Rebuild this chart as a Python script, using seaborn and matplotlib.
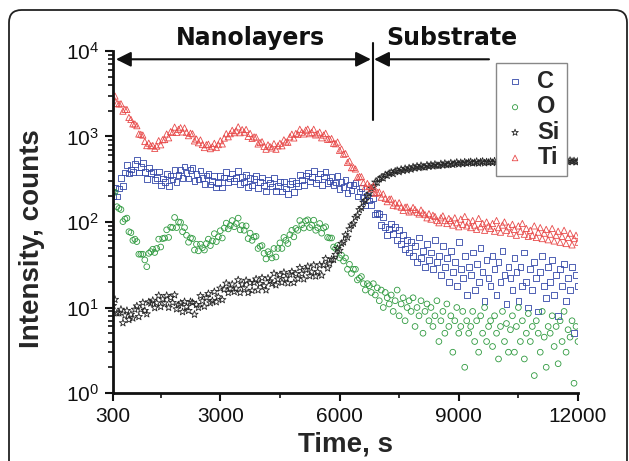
import numpy as np
import pandas as pd
import matplotlib
matplotlib.use('Agg')
import matplotlib.pyplot as plt
from matplotlib.patches import FancyBboxPatch
import seaborn as sns

sns.set_theme(style='ticks')
plt.rcParams['font.family'] = ['Liberation Sans', 'DejaVu Sans']
plt.rcParams['mathtext.default'] = 'regular'

# sputter time grid, s (one reading every 50 s)
time_start = 300
time_stop = 12000
time_step = 50

# counts, 10 readings (500 s) per row
C_counts = [
    200, 254, 198, 247, 325, 262, 378, 468, 369, 412,
    387, 477, 528, 378, 440, 490, 382, 320, 424, 377,
    391, 311, 328, 390, 268, 322, 291, 362, 266, 351,
    314, 409, 296, 357, 403, 329, 445, 373, 323, 403,
    428, 303, 366, 314, 399, 327, 280, 349, 365, 275,
    300, 348, 254, 285, 342, 254, 331, 384, 293, 323,
    369, 302, 328, 396, 276, 333, 296, 357, 257, 329,
    268, 318, 348, 248, 295, 331, 267, 228, 314, 286,
    261, 329, 231, 265, 291, 227, 298, 247, 214, 276,
    302, 224, 288, 264, 357, 307, 271, 349, 377, 297,
    335, 395, 288, 318, 370, 271, 341, 384, 284, 304,
    336, 270, 289, 348, 242, 291, 259, 311, 217, 275,
    233, 270, 284, 199, 228, 249, 189, 156, 204, 179,
    159, 189, 122, 128, 125, 93, 115, 87, 71, 83,
    95, 72, 88, 62, 80, 55, 70, 48, 62, 44,
    58, 40, 52, 34, 66, 38, 46, 30, 55, 36,
    44, 28, 62, 34, 40, 24, 52, 30, 38, 20,
    46, 26, 34, 18, 58, 28, 22, 40, 14, 30,
    24, 44, 16, 32, 20, 50, 26, 12, 36, 22,
    18, 40, 28, 14, 34, 20, 46, 24, 11, 30,
    22, 16, 38, 26, 12, 30, 18, 44, 20, 10,
    28, 16, 34, 22, 9, 26, 40, 18, 13, 30,
    20, 36, 14, 24, 8, 28, 18, 32, 12, 22,
    16, 30, 5, 24, 18,
]
O_counts = [
    225, 223, 151, 144, 140, 101, 108, 111, 77, 75,
    61, 63, 59, 42, 42, 42, 36, 30, 43, 45,
    48, 44, 49, 63, 51, 64, 65, 81, 66, 87,
    86, 113, 86, 100, 99, 77, 86, 70, 58, 65,
    64, 47, 55, 46, 55, 50, 47, 56, 63, 53,
    60, 73, 59, 67, 79, 65, 85, 97, 83, 91,
    104, 88, 96, 111, 81, 91, 80, 90, 64, 74,
    61, 67, 68, 49, 52, 53, 43, 37, 45, 42,
    38, 49, 39, 49, 57, 49, 66, 61, 56, 71,
    80, 67, 84, 80, 104, 93, 85, 103, 106, 86,
    92, 105, 80, 86, 96, 74, 85, 88, 66, 65,
    65, 51, 49, 53, 38, 41, 35, 38, 28, 32,
    25, 28, 28, 21, 22, 23, 19, 16, 19, 18,
    15, 19, 14, 17, 12, 16, 10, 15, 13, 11,
    14, 9, 12, 16, 8, 11, 13, 7, 10, 12,
    9, 13, 6, 10, 8, 12, 5, 9, 11, 7,
    10, 6, 8, 12, 4, 7, 9, 5, 11, 6,
    8, 3, 7, 10, 5, 6, 9, 2, 7, 5,
    6, 9, 4, 7, 3, 8, 5, 10, 4, 6,
    7, 3.5, 8, 5, 2.5, 6, 9, 4, 6.5, 3,
    5.5, 8, 3, 6, 10, 4, 7, 2.5, 5, 8.5,
    4, 6, 1.6, 7, 5, 3, 9, 4.5, 2, 6,
    5, 8, 3.5, 6, 2.2, 7, 4, 9, 3, 5.5,
    4.5, 7, 1.3, 6, 4,
]
Si_counts = [
    10.5, 12.4, 8.6, 8.6, 9.5, 6.6, 8.1, 9.2, 7.2, 8.3,
    7.5, 9.5, 10.4, 7.8, 9.5, 11.4, 9.2, 8.4, 11.6, 11.2,
    12.1, 9.9, 11.3, 13.8, 10.2, 12.5, 11.3, 13.8, 10, 13,
    11.4, 14, 9.6, 10.7, 11.2, 8.9, 11.7, 10.2, 9.2, 11.7,
    11.4, 8.3, 10.8, 10, 13.7, 11.9, 10.3, 13.1, 14.5, 11.3,
    12, 15.3, 11.6, 13.3, 16.8, 12.3, 16.3, 19.2, 14.9, 16.7,
    18.7, 15.3, 16.7, 21, 14.9, 18.7, 16.9, 20.7, 14.9, 19.4,
    15.8, 19.6, 21.5, 16, 19, 22.2, 17.9, 16, 22, 20.4,
    19, 25, 18.3, 21.4, 24.1, 19.6, 25.7, 21.8, 19.3, 24.4,
    26.2, 19.5, 24.7, 21.8, 29.2, 24.8, 21.5, 27.8, 30.2, 23.4,
    26, 31.3, 23.2, 26.1, 31.4, 23.8, 31.5, 37.2, 28.8, 32.8,
    36.6, 36.3, 41.6, 49, 46.5, 56.1, 58.2, 70.6, 66.2, 82.8,
    92, 96, 113, 119, 139, 147, 170, 178, 204, 216,
    248, 256, 292, 289, 318, 330, 326, 356, 349, 370,
    381, 366, 392, 400, 386, 412, 398, 421, 405, 428,
    414, 440, 426, 449, 431, 456, 440, 437, 463, 446,
    466, 450, 472, 458, 455, 478, 462, 484, 466, 471,
    490, 470, 482, 498, 476, 494, 480, 502, 486, 498,
    506, 488, 495, 510, 487, 503, 512, 490, 504, 496,
    510, 494, 516, 500, 492, 512, 505, 494, 518, 502,
    498, 516, 506, 494, 520, 508, 498, 514, 502, 520,
    512, 498, 522, 506, 500, 518, 510, 500, 524, 508,
    504, 520, 512, 500, 526, 510, 502, 522, 512, 506,
    524, 508, 518, 502, 516,
]
Ti_counts = [
    2900, 2970, 2444, 2401, 2415, 1978, 2081, 2071, 1671, 1584,
    1406, 1401, 1338, 1070, 1060, 1039, 874, 783, 836, 778,
    784, 726, 772, 894, 800, 918, 922, 1070, 966, 1139,
    1117, 1287, 1119, 1212, 1266, 1131, 1258, 1123, 1023, 1092,
    1076, 888, 934, 845, 911, 806, 743, 801, 813, 721,
    760, 832, 743, 804, 893, 819, 959, 1079, 993, 1079,
    1181, 1108, 1168, 1297, 1107, 1204, 1125, 1209, 1003, 1087,
    950, 989, 984, 818, 850, 869, 768, 710, 799, 763,
    735, 825, 710, 778, 833, 779, 914, 867, 856, 989,
    1065, 962, 1086, 1056, 1215, 1124, 1072, 1186, 1220, 1079,
    1120, 1215, 1043, 1073, 1124, 966, 1040, 1090, 926, 931,
    946, 831, 822, 861, 688, 714, 621, 631, 497, 518,
    432, 433, 417, 335, 340, 339, 288, 259, 282, 263,
    245, 264, 216, 222, 224, 195, 213, 189, 173, 185,
    186, 157, 167, 154, 168, 149, 137, 149, 150, 131,
    135, 148, 140, 130, 124, 138, 128, 122, 112, 125,
    108, 120, 116, 104, 98, 112, 118, 104, 96, 110,
    104, 92, 112, 98, 88, 108, 94, 116, 90, 100,
    86, 104, 92, 82, 110, 88, 96, 80, 100, 90,
    84, 96, 78, 104, 86, 76, 92, 100, 80, 88,
    74, 94, 82, 70, 90, 78, 96, 72, 84, 68,
    80, 70, 90, 66, 76, 86, 64, 74, 82, 62,
    72, 84, 60, 70, 78, 58, 68, 80, 56, 66,
    74, 54, 64, 70, 58,
]

elements = ['C', 'O', 'Si', 'Ti']
x_ticks = [300, 3000, 6000, 9000, 12000]
x_minor = [1500, 4500, 7500, 10500]

colors = {'C': '#3347a8', 'O': '#2f9a3f', 'Si': '#262626', 'Ti': '#e84a4a'}
markers = {'C': 's', 'O': 'o', 'Si': '*', 'Ti': '^'}
sizes = {'C': 17, 'O': 17, 'Si': 30, 'Ti': 20}

time = np.arange(time_start, time_stop + 1, time_step)
series = [C_counts, O_counts, Si_counts, Ti_counts]
df = pd.concat([pd.DataFrame({'time': time, 'counts': vals, 'element': el})
                for el, vals in zip(elements, series)], ignore_index=True)

fig = plt.figure(figsize=(6.29, 4.61), dpi=100)
ax = fig.add_axes([113/629, 1-393/461, 465/629, 342/461])

for el in elements:
    sub = df[df['element'] == el]
    sns.scatterplot(data=sub, x='time', y='counts', ax=ax, color=colors[el],
                    marker=markers[el], s=sizes[el], facecolor='none',
                    edgecolor=colors[el], linewidth=0.6, label=el)

ax.set_yscale('log')
ax.set_xlim(300, 12000)
ax.set_ylim(1, 1e4)
ax.set_xticks(x_ticks)
ax.set_xticklabels([str(t) for t in x_ticks])
ax.set_xticks(x_minor, minor=True)
sns.despine(ax=ax)
for s in ['left', 'bottom']:
    ax.spines[s].set_linewidth(2)
    ax.spines[s].set_color('#111111')
ax.tick_params(which='major', direction='out', length=6, width=1.5,
               labelsize=15, pad=4, color='#111111', labelcolor='#111111')
ax.tick_params(which='minor', direction='out', length=3.5, width=1.2,
               color='#111111')

ax.set_xlabel('Time, s', fontsize=20, fontweight='bold', labelpad=4)
ax.set_ylabel('Intensity, counts', fontsize=20, fontweight='bold')
ax.yaxis.set_label_coords(-0.146, 0.452)

leg = ax.legend(loc='upper left', bbox_to_anchor=(0.824, 0.965), frameon=True,
                fancybox=False, framealpha=1, edgecolor='#888888',
                prop={'weight': 'bold', 'size': 17}, markerscale=0.9,
                handletextpad=0.45, labelspacing=0.1, borderpad=0.3,
                handlelength=1.0, borderaxespad=0)
leg.get_frame().set_linewidth(1.0)

# phase annotations
arrow_y = 8000
ax.annotate('', xy=(375, arrow_y), xytext=(6790, arrow_y),
            arrowprops=dict(arrowstyle='<|-|>,head_length=0.6,head_width=0.3',
                            color='#111111', lw=1.5, shrinkA=0, shrinkB=0,
                            mutation_scale=15))
ax.annotate('', xy=(6870, arrow_y), xytext=(9760, arrow_y),
            arrowprops=dict(arrowstyle='-|>,head_length=0.6,head_width=0.3',
                            color='#111111', lw=1.5, shrinkA=0, shrinkB=0,
                            mutation_scale=15))
ax.plot([6830, 6830], [12500, 1560], color='#111111', lw=1.5, clip_on=False)
ax.text(3750, 11750, 'Nanolayers', ha='center', va='baseline', fontsize=17,
        fontweight='bold', family='DejaVu Sans', color='#111111')
ax.text(8830, 11750, 'Substrate', ha='center', va='baseline', fontsize=17,
        fontweight='bold', family='DejaVu Sans', color='#111111')

# rounded outer frame
frame = FancyBboxPatch((9/629, -0.2), 618/629, 1.2 - 10/461,
                       boxstyle='round,pad=0,rounding_size=0.02',
                       mutation_aspect=629/461, transform=fig.transFigure,
                       fill=False, ec='#222222', lw=1.3, clip_on=False)
fig.patches.append(frame)

fig.savefig('out.png', dpi=100)
